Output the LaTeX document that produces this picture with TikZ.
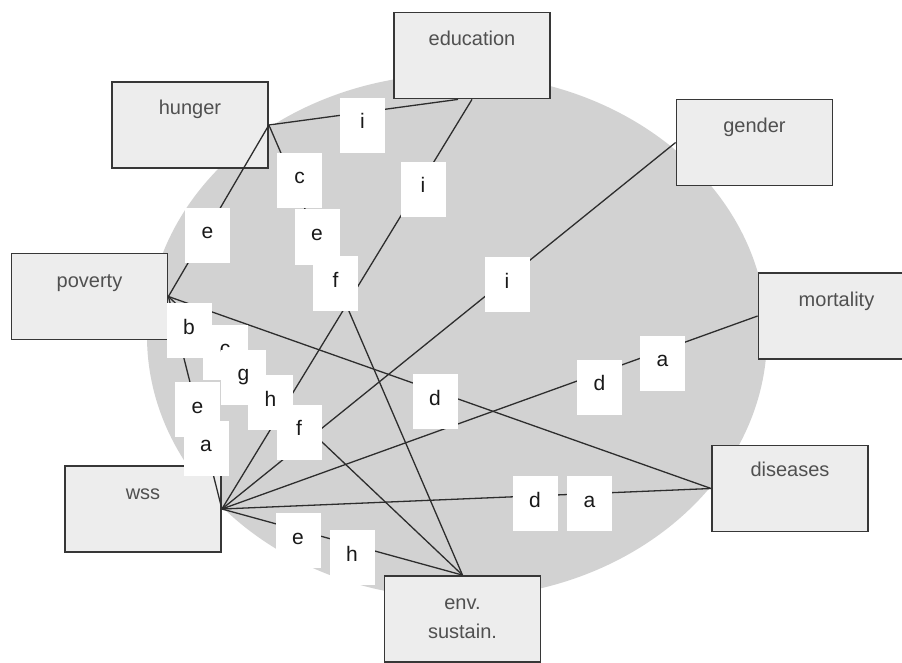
\documentclass[tikz,border=0pt]{standalone}
\usepackage{fontspec}
\setmainfont{Liberation Sans}
\usetikzlibrary{calc}
\definecolor{ellc}{RGB}{210,210,210}
\definecolor{boxfill}{RGB}{237,237,237}
\definecolor{boxline}{RGB}{55,55,55}
\definecolor{boxtxt}{RGB}{80,80,80}
\definecolor{linec}{RGB}{45,45,45}
\definecolor{labtxt}{RGB}{25,25,25}
\begin{document}
\begin{tikzpicture}[x=1pt,y=-1pt,
  mdg/.style={draw=boxline, line width=1.8pt, fill=boxfill, minimum width=156pt, minimum height=86pt, inner sep=0pt},
  mdgtext/.style={text=boxtxt, font=\fontsize{20}{24}\selectfont, inner sep=0pt, anchor=base},
  lab/.style={fill=white, minimum width=45pt, minimum height=55pt, inner sep=0pt, text height=11pt, text depth=4pt, font=\fontsize{21}{21}\selectfont, text=labtxt},
  conn/.style={draw=linec, line width=1.3pt}]
\useasboundingbox (0,0) rectangle (902,663);
\clip (0,0) rectangle (902,663);
\fill[white] (0,0) rectangle (902,663);
% ellipse background
\fill[ellc] (457,336) ellipse [x radius=310, y radius=262];

% MDG boxes
\node[mdg] (edu) at (472,55.5) {};
\node[mdg] (hunger) at (190,125) {};
\node[mdg] (gender) at (754.5,142.5) {};
\node[mdg] (poverty) at (89.5,296.5) {};
\node[mdg] (mort) at (836.5,316) {};
\node[mdg] (dis) at (790,488.5) {};
\node[mdg] (wss) at (143,509) {};
\node[mdg] (env) at (462.5,619) {};

\node[mdgtext] (eduT) at ($(edu.north)+(0,34)$) {education};
\node[mdgtext] (hungerT) at ($(hunger.north)+(0,33)$) {hunger};
\node[mdgtext] (genderT) at ($(gender.north)+(0,34)$) {gender};
\node[mdgtext] (povertyT) at ($(poverty.north)+(0,35)$) {poverty};
\node[mdgtext] (mortT) at ($(mort.north)+(0,34)$) {mortality};
\node[mdgtext] (disT) at ($(dis.north)+(0,32)$) {diseases};
\node[mdgtext] (wssT) at ($(wss.north)+(0,34)$) {wss};
\node[mdgtext] (envT1) at ($(env.north)+(0,34)$) {env.};
\node[mdgtext] (envT2) at ($(env.north)+(0,63)$) {sustain.};

\coordinate (eduL) at ($(edu.south)+(-14,0)$);

% connectors
\draw[conn] (hunger.east) -- (eduL);
\draw[conn] (hunger.east) -- (poverty.east);
\draw[conn] (hunger.east) -- (env.north);
\draw[conn] (edu.south) -- (wss.east);
\draw[conn] (gender.west) -- (wss.east);
\draw[conn] (poverty.east) -- (dis.west);
\draw[conn] (poverty.east) -- (wss.east);
\draw[conn] (poverty.east) -- (env.north);
\draw[conn] (wss.east) -- (mort.west);
\draw[conn] (wss.east) -- (dis.west);
\draw[conn] (wss.east) -- (env.north);

% labels
\node[lab] (li1) at (362.5,125.5) {i};
\node[lab] (li2) at (423,189.5) {i};
\node[lab] (le0) at (207.5,235.5) {e};
\node[lab] (lc1) at (299.5,180.5) {c};
\node[lab] (le1) at (317,237) {e};
\node[lab] (lf1) at (335.5,283.5) {f};
\node[lab] (li3) at (507,284.5) {i};
\node[lab] (lc2) at (225,352) {c};
\node[lab] (lb) at (189,330.5) {b};
\node[lab] (lg) at (243.5,377) {g};
\node[lab] (le2) at (197.5,409.5) {e};
\node[lab] (la1) at (206,448) {a};
\node[lab] (lh1) at (270.5,402.5) {h};
\node[lab] (lf2) at (299,432) {f};
\node[lab] (ld1) at (435,401.5) {d};
\node[lab] (ld2) at (599.5,387) {d};
\node[lab] (la2) at (662.5,363) {a};
\node[lab] (ld3) at (535,503.5) {d};
\node[lab] (la3) at (589.5,503.5) {a};
\node[lab] (le3) at (298,540.5) {e};
\node[lab] (lh2) at (352,557.5) {h};
\end{tikzpicture}
\end{document}
